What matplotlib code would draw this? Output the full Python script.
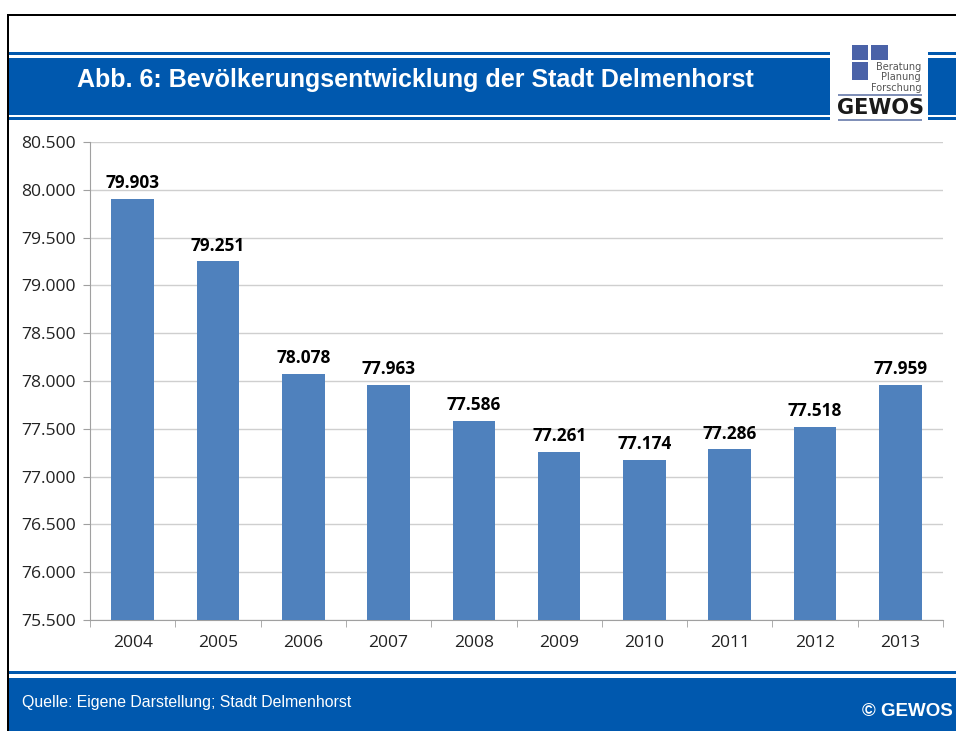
import matplotlib.pyplot as plt
from matplotlib.patches import Rectangle
from matplotlib.ticker import FuncFormatter

years = ['2004', '2005', '2006', '2007', '2008', '2009', '2010', '2011', '2012', '2013']
population = [79903, 79251, 78078, 77963, 77586, 77261, 77174, 77286, 77518, 77959]
y_ticks = [75500, 76000, 76500, 77000, 77500, 78000, 78500, 79000, 79500, 80000, 80500]

W, H = 956, 731
BLUE = '#0058AE'
BAR = '#4F81BD'


def de(v):
    return f'{v:,.0f}'.replace(',', '.')


def px_rect(fig, x0, y0, x1, y1, color, z=1):
    # rectangle in pixel coords measured from the top-left
    fig.patches.append(Rectangle((x0 / W, 1 - y1 / H), (x1 - x0) / W, (y1 - y0) / H,
                                 transform=fig.transFigure, facecolor=color,
                                 edgecolor='none', zorder=z))


def px_text(fig, x, y, s, **kw):
    fig.text(x / W, 1 - y / H, s, **kw)


fig = plt.figure(figsize=(W / 100, H / 100), dpi=100)

# frame lines
px_rect(fig, 7, 14, 956, 16, 'black')
px_rect(fig, 7, 14, 9, 731, 'black')

# header band
px_rect(fig, 9, 52, 830, 55, BLUE)
px_rect(fig, 9, 58, 830, 115, BLUE)
px_rect(fig, 9, 117, 830, 120, BLUE)
px_rect(fig, 928, 52, 956, 55, BLUE)
px_rect(fig, 928, 58, 956, 115, BLUE)
px_rect(fig, 928, 117, 956, 120, BLUE)
px_text(fig, 77, 80, 'Abb. 6: Bevölkerungsentwicklung der Stadt Delmenhorst',
        color='white', fontsize=18, fontweight='bold', family='Liberation Sans',
        va='center', ha='left')

# logo
LOGO = '#4A62A8'
px_rect(fig, 852, 45, 868, 60, LOGO)
px_rect(fig, 871, 45, 888, 60, LOGO)
px_rect(fig, 852, 62, 868, 80, LOGO)
for yy, word in [(67, 'Beratung'), (77, 'Planung'), (88, 'Forschung')]:
    px_text(fig, 921, yy, word, color='#555555', fontsize=7, ha='right', va='center',
            family='DejaVu Sans')
px_rect(fig, 838, 94, 922, 96, '#8090B8')
px_text(fig, 880, 108, 'GEWOS', color='#1a1a1a', fontsize=15, fontweight='bold',
        family='DejaVu Sans Condensed', ha='center', va='center')
px_rect(fig, 838, 119, 922, 121, '#8090B8')

# footer band
px_rect(fig, 9, 671, 956, 674, BLUE)
px_rect(fig, 9, 678, 956, 731, BLUE)
px_text(fig, 22, 703, 'Quelle: Eigene Darstellung; Stadt Delmenhorst', color='white',
        fontsize=11.4, family='Liberation Sans', va='center', ha='left')
px_text(fig, 953, 711, '© GEWOS', color='white', fontsize=13.5, fontweight='bold',
        family='Liberation Sans', va='center', ha='right')

# chart
ax = fig.add_axes([90 / W, 1 - 620 / H, (943 - 90) / W, (620 - 142) / H])
x = range(len(years))
ax.bar(x, population, width=0.5, color=BAR, zorder=3)
for xi, v in zip(x, population):
    ax.text(xi, v + 70, de(v), ha='center', va='bottom', fontsize=12.4,
            fontweight='bold', family='Open Sans', color='black')

ax.set_ylim(y_ticks[0], y_ticks[-1])
ax.set_xlim(-0.5, len(years) - 0.5)
ax.set_yticks(y_ticks)
ax.yaxis.set_major_formatter(FuncFormatter(lambda v, p: de(v)))
ax.set_xticks(list(x))
ax.set_xticklabels(years)
ax.set_xticks([i - 0.5 for i in range(len(years) + 1)], minor=True)
ax.tick_params(axis='x', which='major', length=0, pad=11)
ax.tick_params(axis='x', which='minor', length=5, color='#A0A0A0')
ax.tick_params(axis='y', length=5, color='#A0A0A0', pad=5)
for lab in ax.get_xticklabels() + ax.get_yticklabels():
    lab.set_family('Open Sans')
    lab.set_fontsize(12.6)
    lab.set_color('#222222')

ax.grid(axis='y', color='#CFCFCF', linewidth=1, zorder=0)
for side in ['top', 'right']:
    ax.spines[side].set_visible(False)
ax.spines['left'].set_color('#A0A0A0')
ax.spines['bottom'].set_color('#A0A0A0')

fig.savefig('out.png', dpi=100)
